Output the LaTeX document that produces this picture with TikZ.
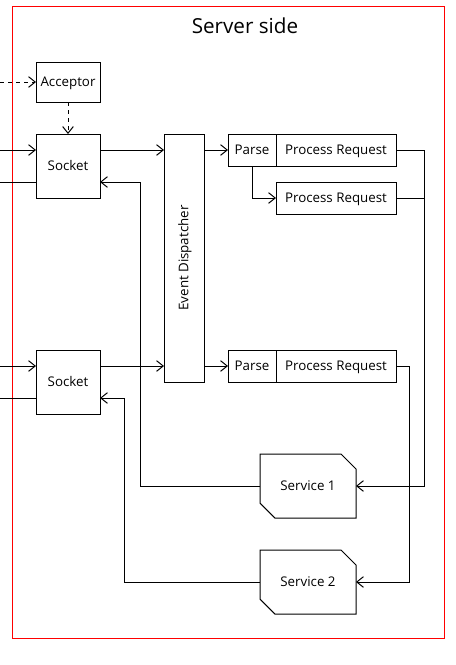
\documentclass[tikz,border=0pt]{standalone}
\usepackage{fontspec}
\setmainfont{Open Sans}
\usepackage{tikz}
\usetikzlibrary{arrows.meta, positioning, shapes.misc}

\begin{document}
\begin{tikzpicture}[
  x=0.75pt, y=-0.75pt,
  >={Straight Barb[length=5pt, width=8pt]},
  every path/.style={line width=0.75pt},
  block/.style={rectangle, draw, inner sep=0pt, outer sep=0pt, text height=1.6ex, text depth=0.4ex,
    font=\fontsize{10}{12}\selectfont},
  service/.style={chamfered rectangle, chamfered rectangle corners={north east, south west},
    chamfered rectangle xsep=7.5pt, chamfered rectangle ysep=7.5pt,
    draw, inner sep=0pt, outer sep=0pt, minimum width=72pt, minimum height=48pt,
    font=\fontsize{10}{12}\selectfont}
]
\useasboundingbox (0,0) rectangle (456,665);
% frame
\draw[red] (12,6) rectangle (444,638);
\node[font=\fontsize{15.5}{18}\selectfont] (title) at (245,26) {Server side};

% sockets and acceptor
\node[block, minimum width=48pt, minimum height=30pt] (acceptor) at (68,82) {Acceptor};
\node[block, minimum width=48pt, minimum height=48pt] (socketA) at (68,166) {Socket};
\node[block, minimum width=48pt, minimum height=48pt] (socketB) at (68,382) {Socket};
\node[block, rotate=90, minimum width=186pt, minimum height=30pt] (dispatcher) at (184,258) {Event Dispatcher};

% handlers
\node[block, minimum width=36pt, minimum height=24pt] (parseA) at (252,150) {Parse};
\node[block, minimum width=90pt, minimum height=24pt] (requestA) at (336,150) {Process Request};
\node[block, minimum width=90pt, minimum height=24pt] (requestB) at (336,198) {Process Request};
\node[block, minimum width=36pt, minimum height=24pt] (parseC) at (252,366) {Parse};
\node[block, minimum width=90pt, minimum height=24pt] (requestC) at (336,366) {Process Request};

% services
\node[service] (serviceA) at (308,486) {Service 1};
\node[service] (serviceB) at (308,582) {Service 2};

% free ends and bends
\coordinate (accIn) at (0,82);
\coordinate (inA) at (0,150);
\coordinate (outA) at (0,182);
\coordinate (inB) at (0,366);
\coordinate (outB) at (0,398);
\coordinate (backA) at (140,182);
\coordinate (backB) at (124,398);
\coordinate (busA) at (424,150);
\coordinate (busC) at (409,366);

\draw[->, dashed] (accIn) -- (acceptor.west);
\draw[->, dashed] (acceptor.south) -- (socketA.north);
\draw[->] (inA) -- (inA -| socketA.west);
\draw (socketA.west |- outA) -- (outA);
\draw[->] (inB) -- (inB -| socketB.west);
\draw (socketB.west |- outB) -- (outB);

\draw[->] (socketA.east |- inA) -- (dispatcher.north |- inA);
\draw[->] (socketB.east |- inB) -- (dispatcher.north |- inB);
\draw[->] (dispatcher.south |- parseA) -- (parseA.west);
\draw[->] (dispatcher.south |- parseC) -- (parseC.west);
\draw[->] (parseA.south) |- (requestB.west);

\draw (requestA.east) -- (busA);
\draw (requestB.east) -- (requestB.east -| busA);
\draw[->] (busA) |- (serviceA.east);
\draw[->] (requestC.east) -- (busC) |- (serviceB.east);

\draw[->] (serviceA.west) -| (backA) -- (socketA.east |- backA);
\draw[->] (serviceB.west) -| (backB) -- (socketB.east |- backB);
\end{tikzpicture}
\end{document}
